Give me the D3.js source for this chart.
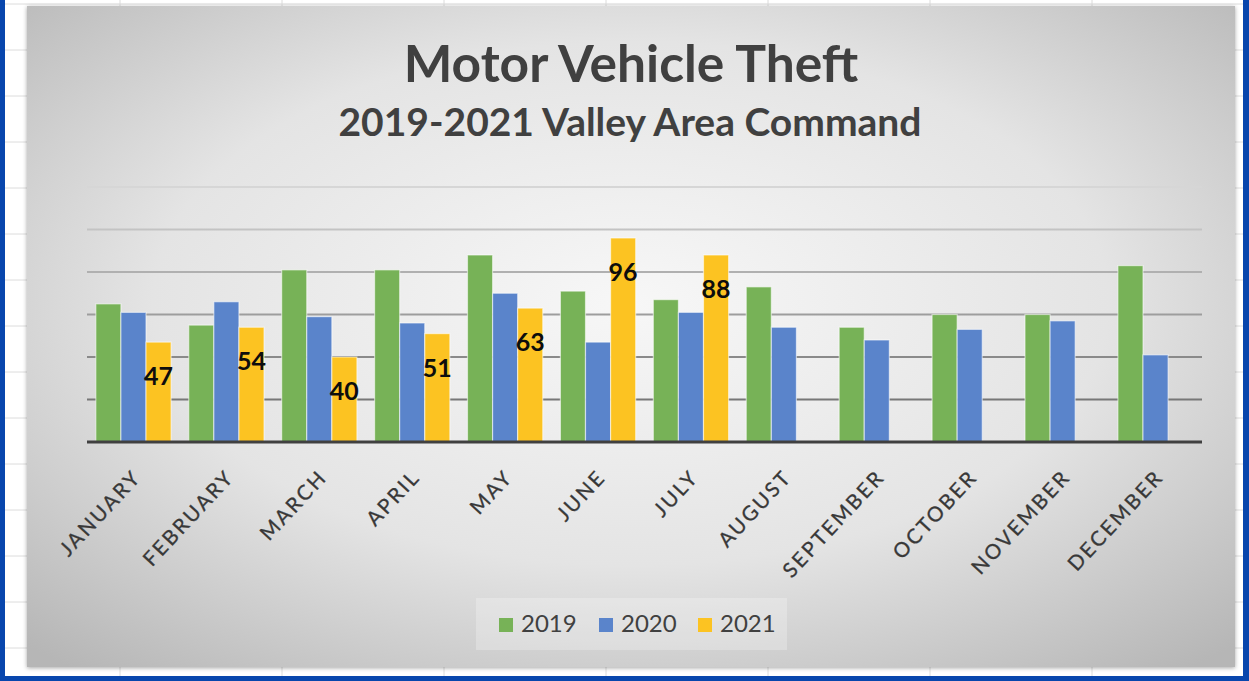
<!DOCTYPE html>
<html>
<head>
<meta charset="utf-8">
<script src="https://cdn.jsdelivr.net/npm/d3@7"></script>
<style>
  html, body { margin: 0; padding: 0; background: #fff; }
  svg { display: block; }
</style>
</head>
<body>
<svg id="chart" width="1249" height="681"></svg>
<script>
// chart data
const months = ["JANUARY", "FEBRUARY", "MARCH", "APRIL", "MAY", "JUNE",
                "JULY", "AUGUST", "SEPTEMBER", "OCTOBER", "NOVEMBER", "DECEMBER"];
const years = ["2019", "2020", "2021"];
const v2019 = [65, 55, 81, 81, 88, 71, 67, 73, 54, 60, 60, 83];
const v2020 = [61, 66, 59, 56, 70, 47, 61, 54, 48, 53, 57, 41];
const v2021 = [47, 54, 40, 51, 63, 96, 88];
const yTicks = [20, 40, 60, 80, 100, 120];
const colors = ["#77b257", "#5a84cb", "#fcc322"];

const series = [v2019, v2020, v2021];
const rows = [];
months.forEach((m, i) => {
    years.forEach((y, k) => {
        if (series[k][i] != null) rows.push({ month: m, year: y, value: series[k][i] });
    });
});

const W = 1249, H = 681;
const svg = d3.select("#chart");
const defs = svg.append("defs");

// spreadsheet grid behind the chart
const sheet = svg.append("g");
d3.range(4, H, 46).forEach(y => {
    sheet.append("line").attr("x1", 0).attr("x2", W).attr("y1", y).attr("y2", y)
         .attr("stroke", "#dcdcdc").attr("stroke-width", 1);
});
d3.range(120, W, 162).forEach(x => {
    sheet.append("line").attr("x1", x).attr("x2", x).attr("y1", 0).attr("y2", H)
         .attr("stroke", "#dcdcdc").attr("stroke-width", 1);
});

// chart area with grey radial gradient
const grad = defs.append("radialGradient").attr("id", "bg")
    .attr("cx", "0.5").attr("cy", "0.45").attr("r", "0.72");
grad.append("stop").attr("offset", "0").attr("stop-color", "#f7f7f7");
grad.append("stop").attr("offset", "0.55").attr("stop-color", "#e4e4e4");
grad.append("stop").attr("offset", "1").attr("stop-color", "#b6b6b6");

const shadow = defs.append("filter").attr("id", "shadow")
    .attr("x", "-2%").attr("y", "-2%").attr("width", "104%").attr("height", "104%");
shadow.append("feDropShadow").attr("dx", 0).attr("dy", 1).attr("stdDeviation", 2)
    .attr("flood-color", "#000").attr("flood-opacity", 0.35);

svg.append("rect")
    .attr("x", 27).attr("y", 6).attr("width", 1208).attr("height", 661)
    .attr("fill", "url(#bg)").attr("filter", "url(#shadow)");

// scales
const margin = { left: 87, right: 1202, top: 187, bottom: 442 };
const x0 = d3.scaleBand().domain(months).range([margin.left, margin.right])
    .paddingInner(0.19).paddingOuter(0.095);
const x1 = d3.scaleBand().domain(years).range([0, x0.bandwidth()]);
const y = d3.scaleLinear().domain([0, 120]).range([margin.bottom, margin.top]);
const gridColor = d3.scaleLinear().domain([20, 120]).range(["#777", "#d6d6d6"]);

// gridlines
svg.append("g")
    .selectAll("line").data(yTicks).join("line")
    .attr("x1", margin.left).attr("x2", margin.right)
    .attr("y1", d => y(d)).attr("y2", d => y(d))
    .attr("stroke", d => gridColor(d)).attr("stroke-width", 2);

// bars
svg.append("g")
    .selectAll("rect").data(rows).join("rect")
    .attr("x", d => x0(d.month) + x1(d.year))
    .attr("y", d => y(d.value))
    .attr("width", x1.bandwidth())
    .attr("height", d => y(0) - y(d.value))
    .attr("fill", d => colors[years.indexOf(d.year)])
    .attr("stroke", "rgba(255,255,255,0.55)")
    .attr("stroke-width", 1.2);

// data labels on 2021
svg.append("g")
    .selectAll("text").data(rows.filter(d => d.year === "2021")).join("text")
    .attr("x", d => x0(d.month) + x1(d.year) + x1.bandwidth() / 2)
    .attr("y", d => y(d.value) + 43)
    .attr("text-anchor", "middle")
    .attr("font-family", "Lato, sans-serif")
    .attr("font-weight", "bold")
    .attr("font-size", 25)
    .attr("fill", "#0d0d0d")
    .text(d => d.value);

// x axis
const xAxis = svg.append("g")
    .attr("transform", `translate(0,${margin.bottom})`)
    .call(d3.axisBottom(x0).tickSize(0).tickSizeOuter(0));
xAxis.select(".domain").attr("stroke", "#404040").attr("stroke-width", 3)
    .attr("d", `M${margin.left},0H${margin.right}`);
xAxis.selectAll(".tick text")
    .attr("font-family", "Lato, sans-serif")
    .attr("font-size", 20.5)
    .attr("letter-spacing", 2.4)
    .attr("fill", "#383838")
    .attr("stroke", "#383838")
    .attr("stroke-width", 0.3)
    .attr("text-anchor", "end")
    .attr("dy", "0.72em")
    .attr("transform", "translate(-4,24) rotate(-47)");

// titles
svg.append("text")
    .attr("x", 631).attr("y", 82)
    .attr("text-anchor", "middle")
    .attr("font-family", "Lato, sans-serif")
    .attr("font-weight", "bold")
    .attr("font-size", 51.5)
    .attr("fill", "#404040")
    .text("Motor Vehicle Theft");
svg.append("text")
    .attr("x", 630).attr("y", 136)
    .attr("text-anchor", "middle")
    .attr("font-family", "Lato, sans-serif")
    .attr("font-weight", "bold")
    .attr("font-size", 39)
    .attr("fill", "#404040")
    .text("2019-2021 Valley Area Command");

// legend
const legend = svg.append("g");
legend.append("rect")
    .attr("x", 476).attr("y", 598).attr("width", 311).attr("height", 52)
    .attr("fill", "rgba(255,255,255,0.25)");
const legendX = [499, 599, 698];
years.forEach((yr, k) => {
    legend.append("rect")
        .attr("x", legendX[k]).attr("y", 618).attr("width", 14).attr("height", 14)
        .attr("fill", colors[k]);
    legend.append("text")
        .attr("x", legendX[k] + 22).attr("y", 632)
        .attr("font-family", "Lato, sans-serif")
        .attr("font-size", 24)
        .attr("fill", "#404040")
        .text(yr);
});

// blue window frame
svg.append("rect").attr("x", 0).attr("y", 0).attr("width", 5).attr("height", H).attr("fill", "#0846ad");
svg.append("rect").attr("x", 1243).attr("y", 0).attr("width", 6).attr("height", H).attr("fill", "#0846ad");
svg.append("rect").attr("x", 0).attr("y", 676).attr("width", W).attr("height", 5).attr("fill", "#0846ad");
</script>
</body>
</html>
